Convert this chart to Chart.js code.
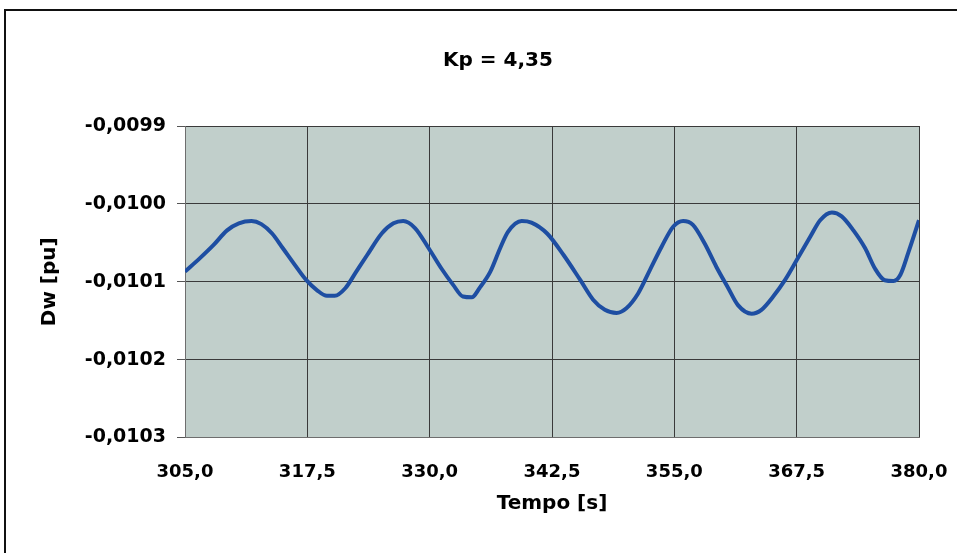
<!DOCTYPE html>
<html>
<head>
<meta charset="utf-8">
<script src="https://cdn.jsdelivr.net/npm/chart.js@4.4.1/dist/chart.umd.min.js"></script>
<style>
  html, body { margin: 0; padding: 0; background: #ffffff; }
  #wrap { position: relative; width: 957px; height: 553px; }
  canvas { display: block; }
</style>
</head>
<body>
<div id="wrap"><canvas id="c" width="957" height="553"></canvas></div>
<script>
// ---- data ----
const chartTitle = "Kp = 4,35";
const xAxisTitle = "Tempo [s]";
const yAxisTitle = "Dw [pu]";

const timeValues = [
  305.0, 306.5, 307.9, 309.3, 310.5, 311.8, 312.8, 313.9, 315.0, 316.2,
  317.4, 318.5, 319.5, 320.3, 321.4, 322.5, 323.6, 325.1, 326.3, 327.3,
  328.5, 329.9, 331.2, 332.4, 333.4, 334.3, 335.1, 336.2, 337.2, 338.0,
  339.4, 340.4, 342.0, 343.7, 345.4, 346.7, 347.9, 349.1, 350.1, 351.3,
  352.5, 353.7, 354.9, 355.9, 356.9, 358.1, 359.3, 360.5, 361.5, 362.9,
  363.9, 365.1, 366.3, 367.7, 368.9, 369.9, 371.1, 372.1, 373.3, 374.5,
  375.5, 376.5, 377.4, 378.1, 378.9, 380.0
];
const dwValues = [
  -0.010087, -0.010070, -0.010053, -0.010034, -0.010025, -0.010022, -0.010026, -0.010038, -0.010057, -0.010078,
  -0.010098, -0.010111, -0.010118, -0.010118, -0.010108, -0.010087, -0.010066, -0.010038, -0.010025, -0.010022,
  -0.010031, -0.010057, -0.010083, -0.010104, -0.010119, -0.010120, -0.010108, -0.010087, -0.010057, -0.010036,
  -0.010022, -0.010024, -0.010038, -0.010066, -0.010098, -0.010123, -0.010136, -0.010140, -0.010134, -0.010115,
  -0.010085, -0.010055, -0.010029, -0.010022, -0.010027, -0.010051, -0.010081, -0.010108, -0.010130, -0.010141,
  -0.010136, -0.010119, -0.010098, -0.010068, -0.010042, -0.010021, -0.010011, -0.010016, -0.010034, -0.010057,
  -0.010083, -0.010098, -0.010099, -0.010091, -0.010063, -0.010021
];
const xTickValues = [305.0, 317.5, 330.0, 342.5, 355.0, 367.5, 380.0];
const yTickValues = [-0.0103, -0.0102, -0.0101, -0.0100, -0.0099];

const points = timeValues.map((t, i) => ({ x: t, y: dwValues[i] }));

const plotBg = {
  id: 'plotBg',
  beforeDraw(chart) {
    const { ctx, chartArea: a } = chart;
    ctx.save();
    ctx.fillStyle = '#c1cfcb';
    ctx.fillRect(a.left, a.top, a.right - a.left, a.bottom - a.top);
    ctx.restore();
  },
  afterDraw(chart) {
    const ctx = chart.ctx;
    ctx.save();
    ctx.strokeStyle = '#111111';
    ctx.lineWidth = 2;
    ctx.beginPath();
    ctx.moveTo(5, 553);
    ctx.lineTo(5, 10);
    ctx.lineTo(957, 10);
    ctx.stroke();
    ctx.restore();
  }
};

const titleShift = {
  id: 'titleShift',
  afterLayout(chart) {
    const t = chart.titleBlock;
    if (t) { t.left = 39; t.right = 957; t.width = 918; }
  }
};

new Chart(document.getElementById('c'), {
  type: 'line',
  data: {
    datasets: [{
      data: points,
      borderColor: '#1e4ea2',
      borderWidth: 4,
      pointRadius: 0,
      cubicInterpolationMode: 'monotone',
      fill: false
    }]
  },
  options: {
    responsive: false,
    animation: false,
    layout: { padding: { left: 0, right: 38, top: 0, bottom: 0 } },
    plugins: {
      legend: { display: false },
      tooltip: { enabled: false },
      title: {
        display: true,
        text: chartTitle,
        color: '#000000',
        font: { family: 'DejaVu Sans', size: 20, weight: 'bold', lineHeight: 1.2 },
        padding: { top: 49, bottom: 53 }
      }
    },
    scales: {
      x: {
        type: 'linear',
        min: 305,
        max: 380,
        afterBuildTicks(scale) { scale.ticks = xTickValues.map(v => ({ value: v })); },
        afterFit(scale) { scale.height = 115.5; scale.paddingLeft = 0; scale.paddingRight = 0; },
        ticks: {
          color: '#000000',
          padding: 24,
          maxRotation: 0,
          autoSkip: false,
          font: { family: 'DejaVu Sans', size: 18, weight: 'bold' },
          callback: v => Number(v).toFixed(1).replace('.', ',')
        },
        grid: { color: '#3a3a3a', lineWidth: 1, drawTicks: false },
        border: { color: '#6e6e6e', width: 1 },
        title: {
          display: true,
          text: xAxisTitle,
          color: '#000000',
          font: { family: 'DejaVu Sans', size: 20, weight: 'bold', lineHeight: 1.2 },
          padding: { top: 0, bottom: 37 }
        }
      },
      y: {
        type: 'linear',
        min: -0.0103,
        max: -0.0099,
        afterBuildTicks(scale) { scale.ticks = yTickValues.map(v => ({ value: v })); },
        afterFit(scale) { scale.width = 185; },
        ticks: {
          color: '#000000',
          padding: 11,
          autoSkip: false,
          font: { family: 'DejaVu Sans', size: 19, weight: 'bold' },
          callback: v => Number(v).toFixed(4).replace('.', ',')
        },
        grid: { color: '#3a3a3a', lineWidth: 1, drawTicks: true, tickLength: 8, tickColor: '#555555' },
        border: { color: '#6e6e6e', width: 1 },
        title: {
          display: true,
          text: yAxisTitle,
          color: '#000000',
          font: { family: 'DejaVu Sans', size: 20, weight: 'bold', lineHeight: 1.2 },
          padding: { top: 38, bottom: 0 }
        }
      }
    }
  },
  plugins: [plotBg, titleShift]
});
</script>
</body>
</html>
